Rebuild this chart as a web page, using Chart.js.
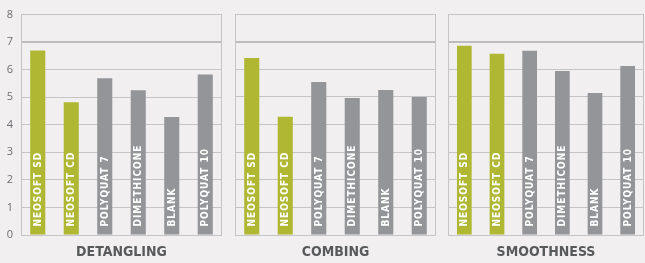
<!DOCTYPE html>
<html>
<head>
<meta charset="utf-8">
<script src="https://cdn.jsdelivr.net/npm/chart.js@4/dist/chart.umd.min.js"></script>
<style>
html,body{margin:0;padding:0;background:#f1eff0;}
body{width:645px;height:263px;position:relative;overflow:hidden;}
.box{position:absolute;top:0;height:263px;}
</style>
</head>
<body>
<div class="box" style="left:0;width:224px"><canvas id="c1"></canvas></div>
<div class="box" style="left:233px;width:205px"><canvas id="c2"></canvas></div>
<div class="box" style="left:446px;width:199px"><canvas id="c3"></canvas></div>
<script>
const categories = ["NEOSOFT SD","NEOSOFT CD","POLYQUAT 7","DIMETHICONE","BLANK","POLYQUAT 10"];
const panelTitles = ["DETANGLING","COMBING","SMOOTHNESS"];
const detangling = [6.70, 4.82, 5.69, 5.25, 4.28, 5.83];
const combing    = [6.41, 4.28, 5.54, 4.96, 5.25, 5.00];
const smoothness = [6.85, 6.56, 6.67, 5.94, 5.14, 6.12];
const yTicks = [0,1,2,3,4,5,6,7,8];

const GREEN = "#afb733", GRAY = "#939598";
const barColors = categories.map((c,i)=> i<2 ? GREEN : GRAY);

const panelPlugin = {
  id:'panel',
  beforeDatasetsDraw(chart){
    const {ctx, chartArea:a} = chart;
    ctx.save();
    ctx.strokeStyle = '#c6c5c6';
    ctx.lineWidth = 1;
    ctx.beginPath();
    ctx.moveTo(a.left+0.5, a.top); ctx.lineTo(a.left+0.5, a.bottom);
    ctx.moveTo(a.right-0.5, a.top); ctx.lineTo(a.right-0.5, a.bottom);
    ctx.stroke();
    ctx.restore();
  },
  afterDatasetsDraw(chart){
    const {ctx, chartArea:a} = chart;
    const meta = chart.getDatasetMeta(0);
    ctx.save();
    ctx.fillStyle = '#ffffff';
    ctx.font = 'bold 10px "DejaVu Sans Condensed", "DejaVu Sans", sans-serif';
    if ('letterSpacing' in ctx) ctx.letterSpacing = '1px';
    ctx.textAlign = 'left';
    ctx.textBaseline = 'middle';
    meta.data.forEach((bar,i)=>{
      ctx.save();
      ctx.translate(bar.x, bar.base - 8);
      ctx.rotate(-Math.PI/2);
      ctx.fillText(chart.data.labels[i], 0, 0.5);
      ctx.restore();
    });
    ctx.restore();
    ctx.save();
    if ('letterSpacing' in ctx) ctx.letterSpacing = '0px';
    ctx.fillStyle = '#58595b';
    ctx.font = 'bold 14px "DejaVu Sans Condensed", "DejaVu Sans", sans-serif';
    ctx.textAlign = 'center';
    ctx.textBaseline = 'middle';
    ctx.fillText(chart.options.plugins.panel.title, (a.left+a.right)/2, 252);
    ctx.restore();
  }
};

function makeChart(id, values, title, showY, padL, padR){
  return new Chart(document.getElementById(id), {
    type:'bar',
    data:{labels:categories, datasets:[{data:values, backgroundColor:barColors, barPercentage:0.45, categoryPercentage:1}]},
    options:{
      responsive:true, maintainAspectRatio:false, animation:false,
      layout:{padding:{top:14, bottom:28, left:padL, right:padR}},
      plugins:{legend:{display:false}, tooltip:{enabled:false}, panel:{title:title}},
      scales:{
        x:{display:false, offset:true},
        y:{
          min:0, max:8,
          afterBuildTicks(s){ s.ticks = yTicks.map(v=>({value:v})); },
          afterFit(s){ s.width = showY ? 21 : 0; },
          border:{display:false},
          grid:{drawTicks:false, color:(c)=> c.tick && c.tick.value===7 ? '#bdbcbd' : '#c6c5c6', lineWidth:(c)=> c.tick && c.tick.value===7 ? 2 : 1},
          ticks:{display:showY, padding:8, color:'#6d6e71', font:{family:'"Open Sans", sans-serif', size:11}}
        }
      }
    },
    plugins:[panelPlugin]
  });
}
makeChart('c1', detangling, panelTitles[0], true, 0, 2);
makeChart('c2', combing, panelTitles[1], false, 2, 2);
makeChart('c3', smoothness, panelTitles[2], false, 2, 1);
</script>
</body>
</html>
